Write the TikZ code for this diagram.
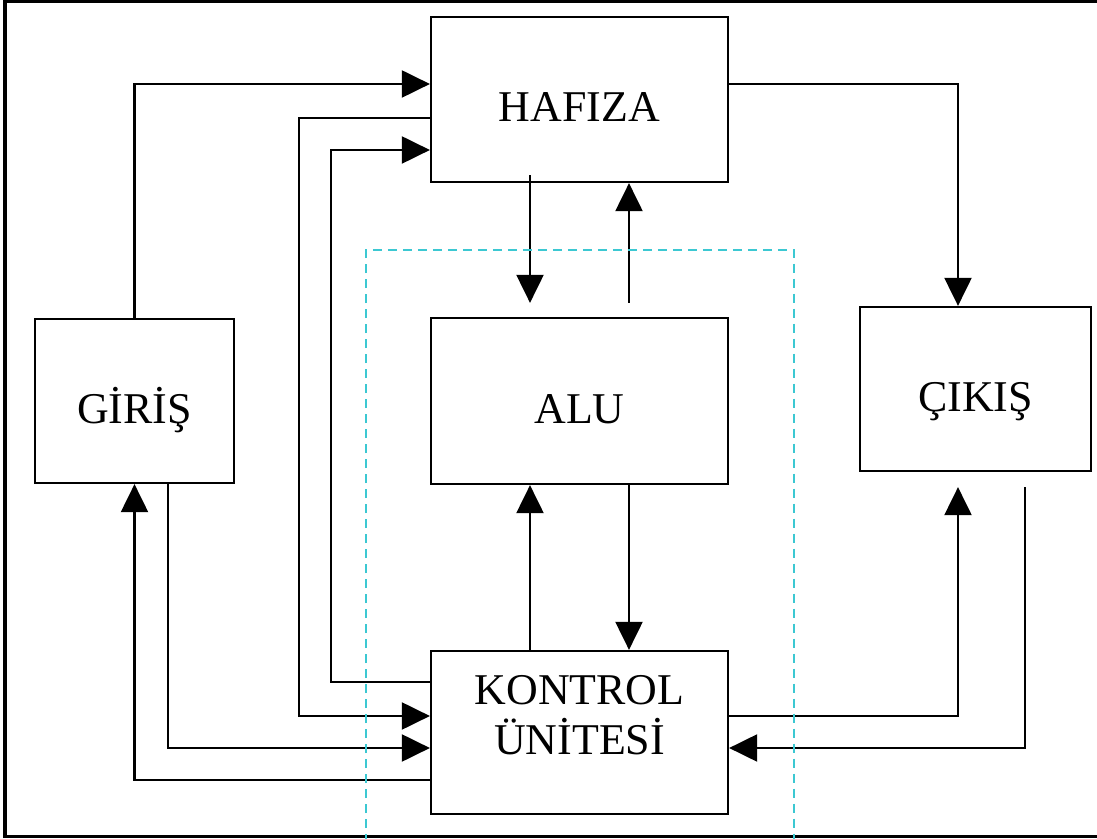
\documentclass[tikz,border=0pt]{standalone}
\usepackage{fontspec}
\setmainfont{Liberation Serif}
\usepackage{xcolor}
\usepackage{tikz}
\usetikzlibrary{arrows.meta,calc,positioning}
\definecolor{dashcyan}{HTML}{3CC8D2}

\tikzset{
  unit/.style={draw,line width=1.3pt,inner sep=0pt,align=center,
    text height=1cm,text depth=0.1cm,font=\fontsize{25pt}{28.5pt}\selectfont},
  conn/.style={line width=1.2pt},
  arr/.style={conn,-{Triangle[length=0.56cm,width=0.54cm]}}
}

\begin{document}
\begin{tikzpicture}[x=0.02cm,y=0.02cm]
\useasboundingbox (0,0) rectangle (1097,838);
% frame
\draw[line width=1.8pt] (1097,837)--(5,837)--(5,1.5)--(1097,1.5);
% units
\node[unit,minimum width=5.94cm,minimum height=3.3cm] (hafiza) at (579.5,738.5) {HAFIZA};
\node[unit,minimum width=5.94cm,minimum height=3.32cm] (alu) at (579.5,437) {ALU};
\node[unit,minimum width=5.94cm,minimum height=3.26cm] (kontrol) at (579.5,105.5) {KONTROL\\ÜNİTESİ};
\node[unit,minimum width=3.98cm,minimum height=3.28cm] (giris) at (134.5,437) {GİRİŞ};
\node[unit,minimum width=4.62cm,minimum height=3.28cm] (cikis) at (975.5,449) {ÇIKIŞ};
% input side
\draw[arr] (giris.north) |- ($(hafiza.west)+(0,15.5)$);
\draw[arr] ($(hafiza.west)+(0,-18.5)$) -- ++(-131,0) |- ($(kontrol.west)+(0,16.5)$);
\draw[arr] ($(kontrol.west)+(0,50.5)$) -- ++(-99,0) |- ($(hafiza.west)+(0,-50.5)$);
\draw[arr] ($(giris.south)+(33.5,0)$) |- ($(kontrol.west)+(0,-15.5)$);
\draw[arr] ($(kontrol.west)+(0,-47.5)$) -| (giris.south);
% memory, alu, control
\draw[arr] ($(hafiza.south)+(-49.5,8)$) -- ($(alu.north)+(-49.5,14)$);
\draw[arr] ($(alu.north)+(49.5,14)$) -- ($(hafiza.south)+(49.5,0)$);
\draw[arr] ($(alu.south)+(49.5,0)$) -- ($(kontrol.north)+(49.5,0)$);
\draw[arr] ($(kontrol.north)+(-49.5,0)$) -- ($(alu.south)+(-49.5,0)$);
% output side
\draw[arr] ($(hafiza.east)+(0,15.5)$) -| ($(cikis.north)+(-17.5,0)$);
\draw[arr] ($(kontrol.east)+(0,16.5)$) -| ($(cikis.south)+(-17.5,-15)$);
\draw[arr] ($(cikis.south)+(49.5,-15)$) |- ($(kontrol.east)+(0,-15.5)$);
% cpu
\draw[dashcyan,line width=1.5pt,dash pattern=on 0.18cm off 0.12cm] (366,-5) |- (794,588) -- (794,-5);
\end{tikzpicture}
\end{document}
